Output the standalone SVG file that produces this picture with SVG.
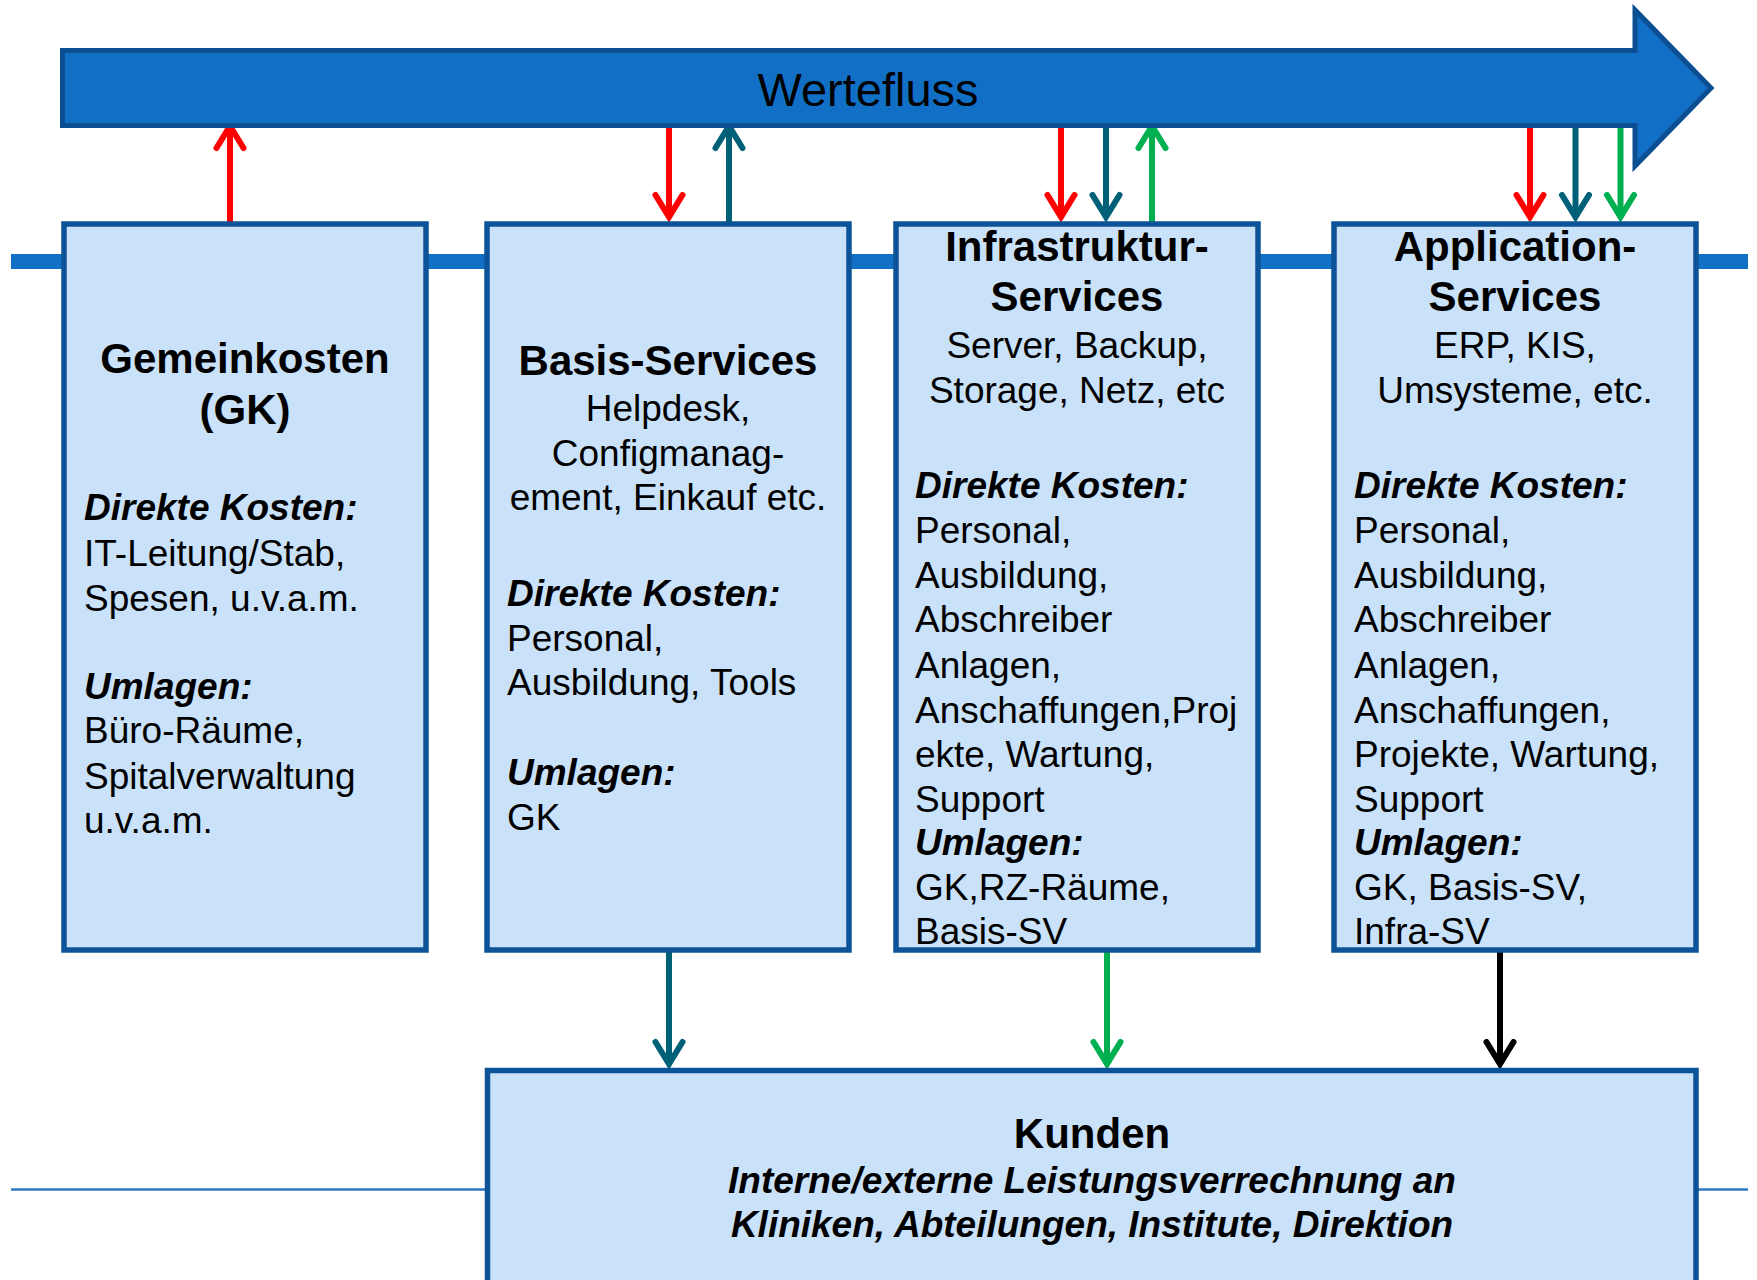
<svg xmlns="http://www.w3.org/2000/svg" width="1757" height="1280" viewBox="0 0 1757 1280">
<style>
text { font-family: "Liberation Sans", Arial, sans-serif; fill: #000; }
.ttl { font-size: 42px; font-weight: bold; text-anchor: middle; }
.bd { font-size: 37px; }
.bdc { font-size: 37px; text-anchor: middle; }
.hd { font-size: 37px; font-weight: bold; font-style: italic; }
.hdc { font-size: 37px; font-weight: bold; font-style: italic; text-anchor: middle; }
.box { fill: #C9E2F9; stroke: #0C5397; stroke-width: 5.5; }
.cn { fill: none; stroke-width: 6; }
</style>
<defs>
<marker id="ah-red" markerUnits="userSpaceOnUse" viewBox="-30 -20 40 40" refX="0" refY="0" markerWidth="40" markerHeight="40" orient="auto" overflow="visible"><path d="M-22,-13.5 L0,0 L-22,13.5" fill="none" stroke="#FF0000" stroke-width="6" stroke-linecap="round" stroke-linejoin="miter"/></marker>
<marker id="ah-teal" markerUnits="userSpaceOnUse" viewBox="-30 -20 40 40" refX="0" refY="0" markerWidth="40" markerHeight="40" orient="auto" overflow="visible"><path d="M-22,-13.5 L0,0 L-22,13.5" fill="none" stroke="#006078" stroke-width="6" stroke-linecap="round" stroke-linejoin="miter"/></marker>
<marker id="ah-green" markerUnits="userSpaceOnUse" viewBox="-30 -20 40 40" refX="0" refY="0" markerWidth="40" markerHeight="40" orient="auto" overflow="visible"><path d="M-22,-13.5 L0,0 L-22,13.5" fill="none" stroke="#00B050" stroke-width="6" stroke-linecap="round" stroke-linejoin="miter"/></marker>
<marker id="ah-black" markerUnits="userSpaceOnUse" viewBox="-30 -20 40 40" refX="0" refY="0" markerWidth="40" markerHeight="40" orient="auto" overflow="visible"><path d="M-22,-13.5 L0,0 L-22,13.5" fill="none" stroke="#000000" stroke-width="6" stroke-linecap="round" stroke-linejoin="miter"/></marker>
</defs>
<rect x="0" y="0" width="1757" height="1280" fill="#FFFFFF"/>
<g id="lines">
<line x1="11" y1="261.5" x2="1748" y2="261.5" stroke="#1170C6" stroke-width="15"/>
<line x1="11" y1="1189.5" x2="1748" y2="1189.5" stroke="#2F78C4" stroke-width="2.5"/>
</g>
<g id="connectors">
<path class="cn" stroke="#FF0000" d="M230,224 L230,126" marker-end="url(#ah-red)"/>
<path class="cn" stroke="#FF0000" d="M669,128 L669,217" marker-end="url(#ah-red)"/>
<path class="cn" stroke="#006078" d="M729,224 L729,126" marker-end="url(#ah-teal)"/>
<path class="cn" stroke="#FF0000" d="M1061,128 L1061,217" marker-end="url(#ah-red)"/>
<path class="cn" stroke="#006078" d="M1106,128 L1106,217" marker-end="url(#ah-teal)"/>
<path class="cn" stroke="#00B050" d="M1152,224 L1152,126" marker-end="url(#ah-green)"/>
<path class="cn" stroke="#FF0000" d="M1530,128 L1530,217" marker-end="url(#ah-red)"/>
<path class="cn" stroke="#006078" d="M1575.5,128 L1575.5,217" marker-end="url(#ah-teal)"/>
<path class="cn" stroke="#00B050" d="M1620.5,128 L1620.5,217" marker-end="url(#ah-green)"/>
<path class="cn" stroke="#006078" d="M669,950 L669,1064" marker-end="url(#ah-teal)"/>
<path class="cn" stroke="#00B050" d="M1107,950 L1107,1064" marker-end="url(#ah-green)"/>
<path class="cn" stroke="#000000" d="M1500,950 L1500,1064" marker-end="url(#ah-black)"/>
</g>
<g id="wertefluss">
<path d="M62.5,50.5 L1635,50.5 L1635,10 L1711,88 L1635,166 L1635,125.5 L62.5,125.5 Z" fill="#1170C6" stroke="#0B4E92" stroke-width="5" stroke-linejoin="miter"/>
<text x="868" y="106" style="font-size:47px;text-anchor:middle">Wertefluss</text>
</g>
<g id="gemeinkosten">
<rect class="box" x="64" y="224" width="362" height="726"/>
<text class="ttl" x="245" y="373">Gemeinkosten</text>
<text class="ttl" x="245" y="424">(GK)</text>
<text class="hd" x="84" y="520">Direkte Kosten:</text>
<text class="bd" x="84" y="566">IT-Leitung/Stab,</text>
<text class="bd" x="84" y="611">Spesen, u.v.a.m.</text>
<text class="hd" x="84" y="699">Umlagen:</text>
<text class="bd" x="84" y="743">Büro-Räume,</text>
<text class="bd" x="84" y="789">Spitalverwaltung</text>
<text class="bd" x="84" y="833">u.v.a.m.</text>
</g>
<g id="basis-services">
<rect class="box" x="487" y="224" width="362" height="726"/>
<text class="ttl" x="668" y="375">Basis-Services</text>
<text class="bdc" x="668" y="420.5">Helpdesk,</text>
<text class="bdc" x="668" y="466">Configmanag-</text>
<text class="bdc" x="668" y="510">ement, Einkauf etc.</text>
<text class="hd" x="507" y="606">Direkte Kosten:</text>
<text class="bd" x="507" y="651">Personal,</text>
<text class="bd" x="507" y="695">Ausbildung, Tools</text>
<text class="hd" x="507" y="785">Umlagen:</text>
<text class="bd" x="507" y="830">GK</text>
</g>
<g id="infrastruktur-services">
<rect class="box" x="896" y="224" width="362" height="726"/>
<text class="ttl" x="1077" y="260.5">Infrastruktur-</text>
<text class="ttl" x="1077" y="310.5">Services</text>
<text class="bdc" x="1077" y="357.5">Server, Backup,</text>
<text class="bdc" x="1077" y="402.5">Storage, Netz, etc</text>
<text class="hd" x="915" y="498">Direkte Kosten:</text>
<text class="bd" x="915" y="543">Personal,</text>
<text class="bd" x="915" y="588">Ausbildung,</text>
<text class="bd" x="915" y="632">Abschreiber</text>
<text class="bd" x="915" y="677.5">Anlagen,</text>
<text class="bd" x="915" y="722.5">Anschaffungen,Proj</text>
<text class="bd" x="915" y="767">ekte, Wartung,</text>
<text class="bd" x="915" y="812">Support</text>
<text class="hd" x="915" y="855">Umlagen:</text>
<text class="bd" x="915" y="900">GK,RZ-Räume,</text>
<text class="bd" x="915" y="944">Basis-SV</text>
</g>
<g id="application-services">
<rect class="box" x="1334" y="224" width="362" height="726"/>
<text class="ttl" x="1515" y="260.5">Application-</text>
<text class="ttl" x="1515" y="310.5">Services</text>
<text class="bdc" x="1515" y="357.5">ERP, KIS,</text>
<text class="bdc" x="1515" y="402.5">Umsysteme, etc.</text>
<text class="hd" x="1354" y="498">Direkte Kosten:</text>
<text class="bd" x="1354" y="543">Personal,</text>
<text class="bd" x="1354" y="588">Ausbildung,</text>
<text class="bd" x="1354" y="632">Abschreiber</text>
<text class="bd" x="1354" y="677.5">Anlagen,</text>
<text class="bd" x="1354" y="722.5">Anschaffungen,</text>
<text class="bd" x="1354" y="767">Projekte, Wartung,</text>
<text class="bd" x="1354" y="812">Support</text>
<text class="hd" x="1354" y="855">Umlagen:</text>
<text class="bd" x="1354" y="900">GK, Basis-SV,</text>
<text class="bd" x="1354" y="944">Infra-SV</text>
</g>
<g id="kunden">
<rect class="box" x="487.5" y="1070.5" width="1208.5" height="240"/>
<text class="ttl" x="1092" y="1148">Kunden</text>
<text class="hdc" x="1092" y="1193">Interne/externe Leistungsverrechnung an</text>
<text class="hdc" x="1092" y="1237">Kliniken, Abteilungen, Institute, Direktion</text>
</g>
</svg>
